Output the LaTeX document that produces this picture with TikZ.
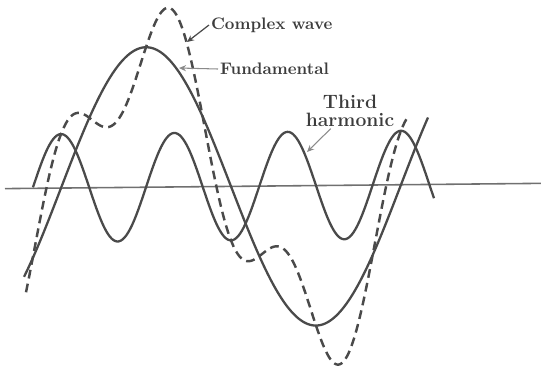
\documentclass[tikz,border=0pt]{standalone}
\usepackage{xcolor}
\definecolor{CInk}{HTML}{4A4A4A}
\definecolor{CAxis}{HTML}{707070}
\definecolor{CText}{HTML}{3C3C3C}
\definecolor{CPointer}{HTML}{8A8A8A}
\usepackage{tikz}
\usetikzlibrary{arrows.meta,positioning}
\tikzstyle{axisLine}=[draw=CAxis, line width=0.9pt]
\tikzstyle{waveLine}=[draw=CInk, line width=1.3pt, line join=round]
\tikzstyle{complexLine}=[draw=CInk, line width=1.4pt, dash pattern=on 5pt off 3pt]
\tikzstyle{labelNode}=[text=CText, font=\fontsize{9.5}{11}\selectfont\bfseries, inner sep=1pt, align=center]
\tikzstyle{arr}=[-{Stealth[length=4pt,width=3.5pt]}, line width=0.7pt, draw=CInk]
\tikzstyle{lightArr}=[-{Stealth[length=4pt,width=3.5pt]}, line width=0.6pt, draw=CPointer]

\begin{document}
\begin{tikzpicture}[x=0.02cm, y=-0.02cm,
  declare function={base(\t)=188.6-0.0098*(\t-5);
    fund(\t)=140*sin(1.05882*(\t-61));
    third(\t)=54*cos(3.17647*(\t-61));}]
\useasboundingbox (0,0) rectangle (541,370);

\draw[axisLine] (5,{base(5)}) -- (541,{base(541)});
\draw[waveLine] plot[domain=24:428, samples=220, smooth] (\x, {base(\x)-fund(\x)});
\draw[waveLine] plot[domain=33:434, samples=220, smooth] (\x, {base(\x)-third(\x)});
\draw[complexLine] plot[domain=26:409, samples=260, smooth] (\x, {base(\x)-fund(\x)-third(\x)});

\node[labelNode, anchor=west] (complexlbl) at (209,25) {Complex wave};
\node[labelNode, anchor=west] (fundlbl) at (218,69) {Fundamental};
\node[labelNode, font=\fontsize{11}{10}\selectfont\bfseries] (thirdlbl) at (350,111) {Third\\harmonic};
\coordinate (complextip) at (187,42);
\coordinate (fundtip) at (179,68);
\coordinate (thirdtip) at (307,152);

\draw[arr] (complexlbl.west) -- (complextip);
\draw[lightArr] (fundlbl.west) -- (fundtip);
\draw[lightArr] ([xshift=-11pt]thirdlbl.south) -- (thirdtip);
\end{tikzpicture}
\end{document}
